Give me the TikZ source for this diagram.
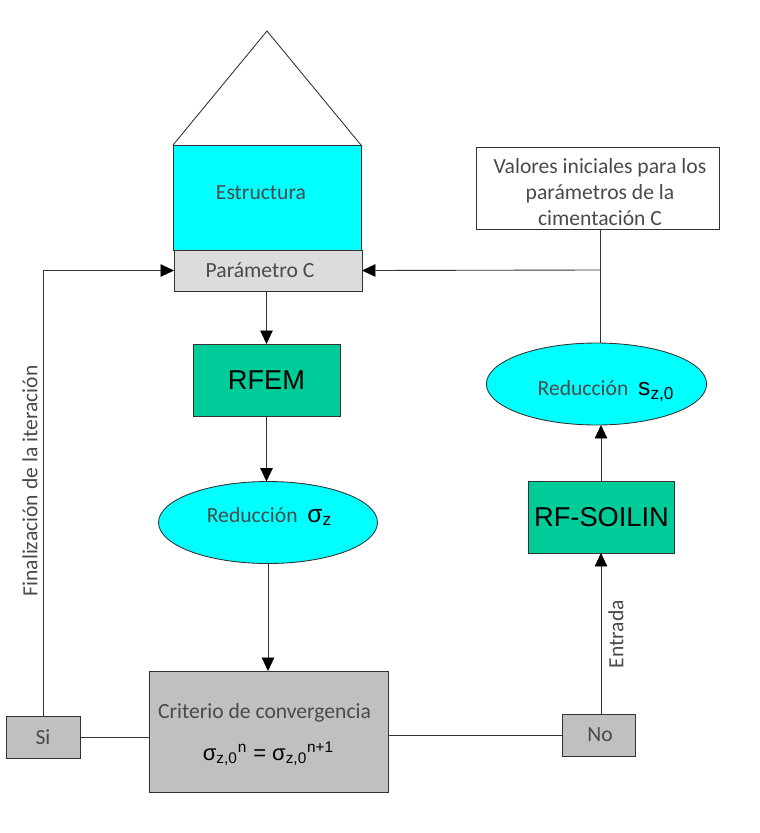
\documentclass[tikz,border=0pt]{standalone}
\usepackage{fontspec}
\setmainfont{Carlito}
\newfontfamily\arialf{Liberation Sans}
\usetikzlibrary{arrows.meta,shapes.geometric}
\definecolor{agua}{HTML}{00FFFF}
\definecolor{verde}{HTML}{00CC99}
\definecolor{gris}{HTML}{C0C0C0}
\definecolor{grisclaro}{HTML}{DCDCDC}
\definecolor{texto}{HTML}{4A4A4A}
\definecolor{linea}{HTML}{333333}

\begin{document}
\begin{tikzpicture}[x=0.02cm,y=-0.02cm]
\tikzstyle{box}=[draw=linea,outer sep=0pt,line width=0.5pt,text=texto,font=\fontsize{12.3}{14.2}\selectfont]
\tikzstyle{solver}=[box,fill=verde,text=black,font=\arialf\fontsize{15.5}{18}\selectfont]
\tikzstyle{reduce}=[box,ellipse,fill=agua,inner sep=0pt,minimum width=4.38cm,minimum height=1.64cm]
\tikzstyle{arrow}=[draw=linea,line width=0.5pt,-{Triangle[length=0.27cm,width=0.25cm,color=black]}]
\tikzstyle{wire}=[draw=linea,line width=0.5pt]

\useasboundingbox (0,0) rectangle (760,833);

\node (E) [box,fill=agua,minimum width=3.76cm,minimum height=2.1cm] at (267,197.5) {\raisebox{0.2cm}{Estructura\hspace*{0.24cm}}};
\node (P) [box,fill=grisclaro,minimum width=3.76cm,minimum height=0.82cm] at (268,270.5) {Parámetro C\hspace*{0.32cm}};
\node (V) [box,fill=white,align=center,inner ysep=0pt,minimum width=4.86cm,minimum height=1.64cm] at (597.5,188) {\rule{0pt}{0.46cm}\hspace*{0.1cm}Valores iniciales para los\\[0.02cm]\hspace*{0.1cm}parámetros de la\\[0.02cm]\hspace*{0.1cm}cimentación C};
\node (RFEM) [solver,minimum width=2.94cm,minimum height=1.44cm] at (266.5,380) {RFEM};
\node (RS) [reduce] at (268,522.5) {\raisebox{0.32cm}{\hspace*{0.06cm}Reducción\ \ {\arialf\color{black}\fontsize{14}{16}\selectfont σ\textsubscript{z}}}};
\node (C) [box,fill=gris,align=center,minimum width=4.78cm,minimum height=2.42cm] at (268.5,731.5) {\rule{0pt}{0.42cm}Criterio de convergencia\hspace*{0.16cm}\\[0.34cm]{\arialf\color{black}\fontsize{12.5}{14}\selectfont σ\textsubscript{z,0}\textsuperscript{n} = σ\textsubscript{z,0}\textsuperscript{n+1}}};
\node (Si) [box,fill=gris,minimum width=1.48cm,minimum height=0.84cm] at (43,737) {Si};
\node (No) [box,fill=gris,minimum width=1.46cm,minimum height=0.84cm] at (598.5,735) {\hspace*{0.06cm}No};
\node (RF) [solver,minimum width=2.9cm,minimum height=1.44cm] at (601.5,517) {RF-SOILIN};
\node (RZ) [reduce] at (596.5,384) {\raisebox{-0.58cm}{\hspace*{0.38cm}Reducción\ \ {\arialf\color{black}\fontsize{14}{16}\selectfont s\textsubscript{z,0}}}};

\node (F) [text=texto,rotate=90,font=\fontsize{12.3}{14.2}\selectfont] at (30,481) {Finalización de la iteración};
\node (En) [text=texto,rotate=90,font=\fontsize{12.3}{14.2}\selectfont] at (616,634) {Entrada};

\coordinate (T) at (267,31);
\coordinate (J) at (600,270);
\coordinate (K) at (601,600);

\draw [wire] (E.north west) -- (T) -- (E.north east);
\draw [arrow] (Si.north) |- (P.west);
\draw [wire] (J |- V.south) -- (J |- RZ.north);
\draw [arrow] (J) -- (P.east);
\draw [arrow] (P.south -| RFEM) -- (RFEM.north);
\draw [arrow] (RFEM.south) -- (RFEM.south |- RS.north);
\draw [arrow] (RS.south) -- (C.north -| RS);
\draw [wire] (Si.east) -- (Si.east -| C.west);
\draw [wire] (C.east |- No.west) -- (No.west);
\draw [arrow] (K |- No.north) -- (K |- RF.south);
\draw [arrow] (K |- RF.north) -- (K |- RZ.south);

\end{tikzpicture}
\end{document}
